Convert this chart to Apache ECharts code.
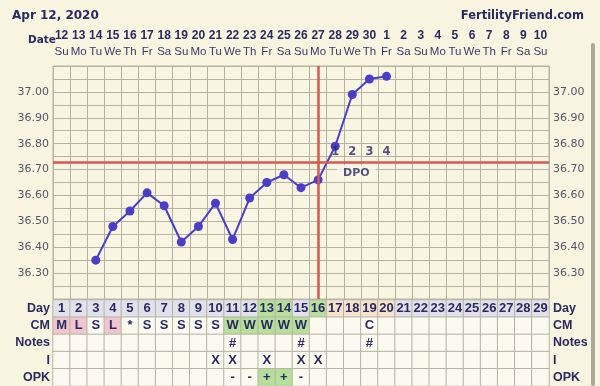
<!DOCTYPE html>
<html><head><meta charset="utf-8">
<script src="https://cdn.jsdelivr.net/npm/echarts@6/dist/echarts.min.js"></script>
<style>html,body{margin:0;padding:0;background:#f7f5df;}#c{width:600px;height:386px;}</style>
</head><body><div id="c"></div>
<script>
// ---- data ----
const dateNums = ['12','13','14','15','16','17','18','19','20','21','22','23','24','25','26','27','28','29','30','1','2','3','4','5','6','7','8','9','10'];
const dayNames = ['Su','Mo','Tu','We','Th','Fr','Sa','Su','Mo','Tu','We','Th','Fr','Sa','Su','Mo','Tu','We','Th','Fr','Sa','Su','Mo','Tu','We','Th','Fr','Sa','Su'];
const temps = [null,null,36.35,36.48,36.54,36.61,36.56,36.42,36.48,36.57,36.43,36.59,36.65,36.68,36.63,36.66,36.79,36.99,37.05,37.06,null,null,null,null,null,null,null,null,null];
const yTickLabels = ['36.30','36.40','36.50','36.60','36.70','36.80','36.90','37.00'];
const coverline = 36.735;
const ovulationIdx = 15;
const dpoLabels = ['1','2','3','4'];
const dpoStartIdx = 16;
const cycleDays = ['1','2','3','4','5','6','7','8','9','10','11','12','13','14','15','16','17','18','19','20','21','22','23','24','25','26','27','28','29'];
const dayMarks = ['','','','','','','','','','','','','g','g','','g','p','p','p','p','','','','','','','','',''];
const cmRow = ['M','L','S','L','*','S','S','S','S','S','W','W','W','W','W','','','','C','','','','','','','','','',''];
const notesRow = ['','','','','','','','','','','#','','','','#','','','','#','','','','','','','','','',''];
const iRow = ['','','','','','','','','','X','X','','X','','X','X','','','','','','','','','','','','',''];
const opkRow = ['','','','','','','','','','','-','-','+','+','-','','','','','','','','','','','','','',''];
const rowNames = ['Day','CM','Notes','I','OPK'];

// ---- styles ----
const NAVY = '#2a2a62';
const GRID = '#b7b3a1';
const F = "'DejaVu Sans', Verdana, sans-serif";
const FN = "'Liberation Sans', Arial, sans-serif";
const dayColor = {'':'#e1e1eb', g:'#b6df9c', p:'#f6e2cc'};
const cmColor = {M:'#f1c5cf', L:'#f1c5cf', W:'#b6df9c'};
const EMPTY = '#fafaf1';

const cells = [];
const rows = [cycleDays, cmRow, notesRow, iRow, opkRow];
rows.forEach((row, r) => {
  row.forEach((t, c) => {
    let col = EMPTY;
    if (r === 0) col = dayColor[dayMarks[c]];
    else if (r === 1 && cmColor[t]) col = cmColor[t];
    else if (r === 4 && t === '+') col = '#b6df9c';
    cells.push({value:[c, r, 0], name:t, itemStyle:{color:col}});
  });
});

const yFmt = v => { const s = v.toFixed(2); return yTickLabels.indexOf(s) >= 0 ? s : ''; };

const chart = echarts.init(document.getElementById('c'));
chart.setOption({
  backgroundColor:'#f7f5df',
  animation:false,
  title:[
    {text:'Apr 12, 2020', left:7, top:5, textStyle:{fontFamily:F, fontWeight:'bold', fontSize:12, color:NAVY}},
    {text:'FertilityFriend.com', right:11, top:5, textStyle:{fontFamily:F, fontWeight:'bold', fontSize:11.5, color:NAVY}},
    {text:'Date', left:23, top:30, textStyle:{fontFamily:F, fontWeight:'bold', fontSize:10.5, color:NAVY}}
  ],
  grid:[
    {left:53, top:66, width:496, height:233, show:true, backgroundColor:'#f8f6e2', borderColor:GRID, borderWidth:1},
    {left:53, top:300, width:496, height:86}
  ],
  xAxis:[
    {type:'category', gridIndex:0, position:'top', data:dateNums, boundaryGap:true,
     axisLine:{lineStyle:{color:GRID}}, axisTick:{show:false},
     axisLabel:{interval:0, margin:6, formatter:(v,i)=>'{n|'+v+'}\n{d|'+dayNames[i]+'}',
       rich:{n:{fontFamily:FN, fontWeight:'bold', fontSize:12, color:NAVY, lineHeight:15},
             d:{fontFamily:FN, fontSize:11.5, color:'#3a3a66', lineHeight:17}}},
     splitLine:{show:true, interval:0, lineStyle:{color:GRID, width:1}}},
    {type:'category', gridIndex:1, data:cycleDays, show:false}
  ],
  yAxis:[
    {type:'value', gridIndex:0, min:36.2, max:37.1, interval:0.05,
     axisLine:{show:false}, axisTick:{show:false},
     axisLabel:{formatter:yFmt, fontFamily:F, fontSize:11, color:'#55556a', margin:4},
     splitLine:{lineStyle:{color:GRID, width:1}}},
    {type:'value', gridIndex:0, position:'right', min:36.2, max:37.1, interval:0.05,
     axisLine:{show:false}, axisTick:{show:false}, splitLine:{show:false},
     axisLabel:{formatter:yFmt, fontFamily:F, fontSize:11, color:'#55556a', margin:4}},
    {type:'category', gridIndex:1, data:rowNames, inverse:true,
     axisLine:{show:false}, axisTick:{show:false}, splitLine:{show:false},
     axisLabel:{fontFamily:FN, fontWeight:'bold', fontSize:12.5, color:NAVY, margin:3}},
    {type:'category', gridIndex:1, data:rowNames, inverse:true, position:'right',
     axisLine:{show:false}, axisTick:{show:false}, splitLine:{show:false},
     axisLabel:{fontFamily:FN, fontWeight:'bold', fontSize:12.5, color:NAVY, margin:4}}
  ],
  series:[
    {type:'line', xAxisIndex:0, yAxisIndex:0, data:[], z:1, silent:true,
     markLine:{silent:true, symbol:'none', label:{show:false},
       lineStyle:{color:'#d8574e', width:2.5, type:'solid'},
       data:[{yAxis:coverline},{xAxis:ovulationIdx}]}},
    {type:'line', xAxisIndex:0, yAxisIndex:0, data:temps, z:3, connectNulls:false,
     symbol:'circle', symbolSize:9, showSymbol:true,
     itemStyle:{color:'#4a3ec8'}, lineStyle:{color:'#4a3ec8', width:2}},
    {type:'scatter', xAxisIndex:0, yAxisIndex:0, z:4, symbolSize:0,
     data:dpoLabels.map((t,i)=>({value:[dpoStartIdx+i, coverline+0.033], name:t})),
     label:{show:true, position:'inside', formatter:'{b}', fontFamily:F, fontWeight:'bold', fontSize:11.5, color:NAVY}},
    {type:'scatter', xAxisIndex:0, yAxisIndex:0, z:4, symbolSize:0,
     data:[{value:[dpoStartIdx+1, coverline-0.05], name:'DPO'}],
     label:{show:true, position:'inside', offset:[4,0], formatter:'{b}', fontFamily:F, fontWeight:'bold', fontSize:11, color:NAVY,
       backgroundColor:'#f8f6e6', padding:[3,6]}},
    {type:'heatmap', xAxisIndex:1, yAxisIndex:2, data:cells,
     itemStyle:{borderColor:GRID, borderWidth:1},
     label:{show:true, formatter:'{b}', fontFamily:FN, fontWeight:'bold', fontSize:13, color:NAVY},
     emphasis:{disabled:true}}
  ],
  graphic:[
    {type:'rect', shape:{x:591, y:43, width:4, height:343, r:2}, style:{fill:'#aaa99a'}}
  ]
});
</script></body></html>
